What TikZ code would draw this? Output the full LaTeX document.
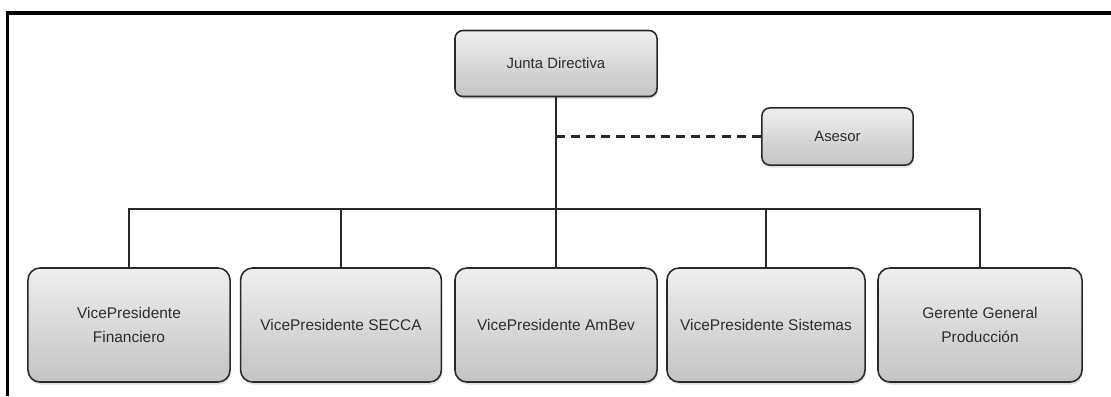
\documentclass[tikz,border=0pt]{standalone}
\usepackage{fontspec}
\setmainfont{Liberation Sans}
\usetikzlibrary{shadows}

\definecolor{boxTop}{RGB}{238,238,238}
\definecolor{boxBottom}{RGB}{196,196,196}
\definecolor{boxLine}{RGB}{40,40,40}
\definecolor{boxText}{RGB}{45,45,45}

\tikzset{
  orgbox/.style={draw=boxLine, line width=1.1pt, rounded corners=0.2cm,
    top color=boxTop, bottom color=boxBottom, text=boxText, align=center,
    font=\fontsize{10.6}{12}\selectfont,
    drop shadow={opacity=0.25, shadow xshift=0.6pt, shadow yshift=-1.8pt}},
  smallbox/.style={orgbox, minimum width=5.05cm, minimum height=1.65cm},
  bigbox/.style={orgbox, rounded corners=0.3cm, minimum height=2.85cm,
    font=\fontsize{11}{16.5}\selectfont},
  link/.style={draw=boxLine, line width=1.1pt},
}

\begin{document}
\begin{tikzpicture}[x=0.025cm, y=-0.025cm] % org chart
		\newcommand{\busY}{209}
		
		\useasboundingbox (0,0) rectangle (1111,396);
		\draw[line width=2.2pt] (1111,13) -- (7.5,13) -- (7.5,396);	% frame
		
		% top boxes
		\node[smallbox] (junta) at (556,63.5) {Junta Directiva};
		\node[smallbox, minimum width=3.78cm, minimum height=1.43cm] (asesor) at (837.5,136.5) {Asesor};
		
		% bottom row
		\node[bigbox, minimum width=5.05cm] (vpFin) at (129,325) {VicePresidente\\Financiero};
		\node[bigbox, minimum width=5.02cm] (vpSecca) at (341,325) {VicePresidente SECCA};
		\node[bigbox, minimum width=5.05cm] (vpAmbev) at (556,325) {VicePresidente AmBev};
		\node[bigbox, minimum width=4.95cm] (vpSis) at (766,325) {VicePresidente Sistemas};
		\node[bigbox, minimum width=5.1cm] (gerente) at (980,325) {Gerente General\\Producción};
		
		% lines
		\coordinate (busMid) at (junta.south |- 0,\busY);
		\draw[link] (junta.south) -- (busMid);
		\draw[link, line width=1.7pt, dash pattern=on 6.4pt off 4.3pt] (junta.south |- asesor.west) -- (asesor.west);	% advisor
		\draw[link] (vpFin.north) -- (vpFin.north |- busMid) -- (gerente.north |- busMid) -- (gerente.north);
		\foreach \n in {vpSecca, vpAmbev, vpSis}
			\draw[link] (\n.north) -- (\n.north |- busMid);
\end{tikzpicture}
\end{document}
